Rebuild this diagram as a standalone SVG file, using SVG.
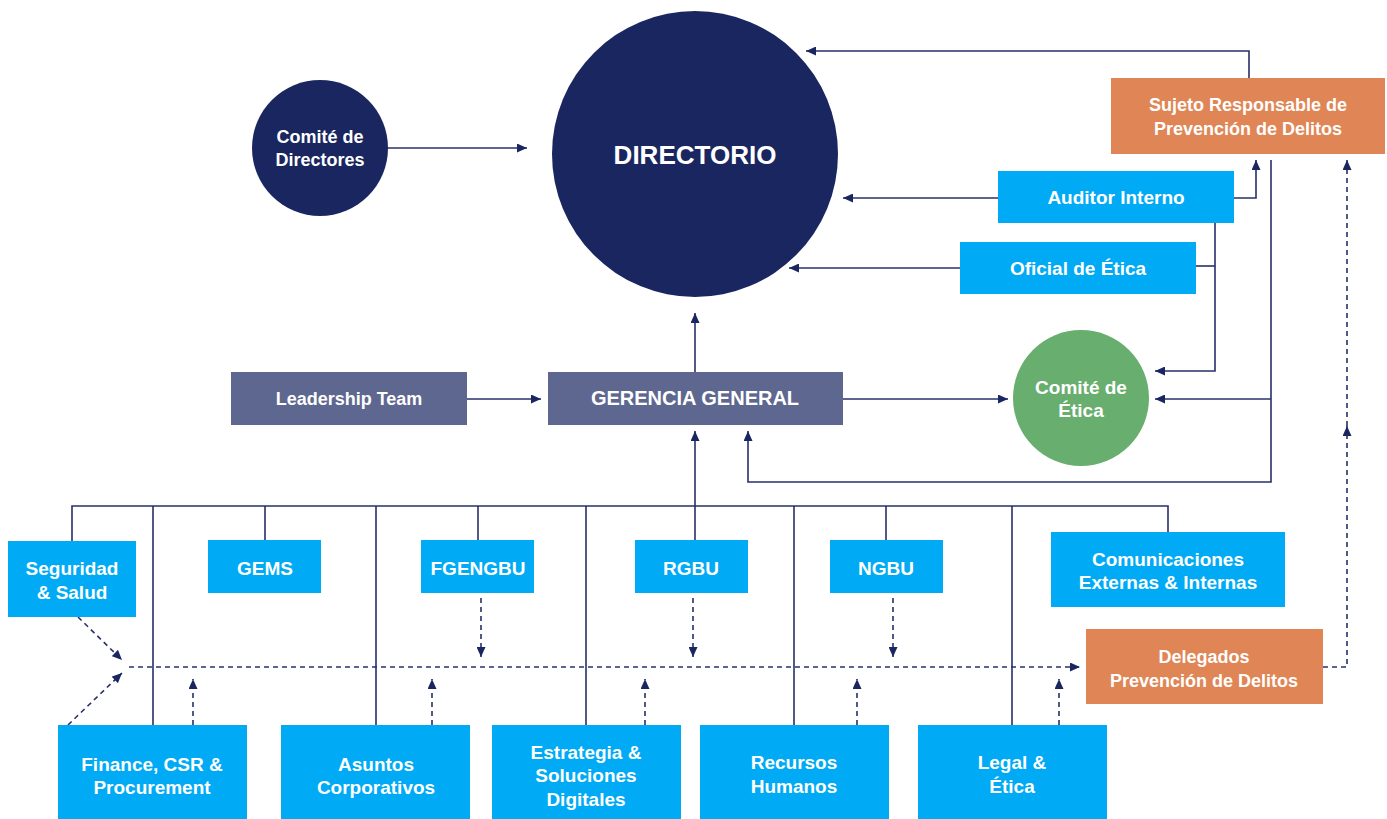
<svg xmlns="http://www.w3.org/2000/svg" width="1387" height="819" viewBox="0 0 1387 819">
<style>
.t{font-family:"Liberation Sans",Arial,sans-serif;font-weight:bold;fill:#fff;text-anchor:middle}
.s19{font-size:19px}.s18{font-size:18px}
.blue{fill:#00aaf5}.orange{fill:#e08656}.slate{fill:#5e6790}.navy{fill:#1a2660}.green{fill:#68ae6e}
.ln{fill:none;stroke:#27306a;stroke-width:1.6}
.ds{fill:none;stroke:#27306a;stroke-width:1.6;stroke-dasharray:5 4}
</style>
<defs>
<marker id="ah" markerUnits="userSpaceOnUse" markerWidth="11" markerHeight="9" refX="10" refY="4.5" orient="auto">
<path d="M0,0 L10,4.5 L0,9 z" fill="#1a2660"/>
</marker>
</defs>
<rect width="1387" height="819" fill="#fff"/>

<g id="connectors">
<path class="ln" d="M388,148 H527" marker-end="url(#ah)"/>
<path class="ln" d="M1249,78 V51 H806" marker-end="url(#ah)"/>
<path class="ln" d="M998,198 H843" marker-end="url(#ah)"/>
<path class="ln" d="M1234,198 H1256 V160" marker-end="url(#ah)"/>
<path class="ln" d="M960,268 H789" marker-end="url(#ah)"/>
<path class="ln" d="M1215,223 V371 H1155" marker-end="url(#ah)"/>
<path class="ln" d="M1196,266 H1215"/>
<path class="ln" d="M1271,160 V482 H748 V431" marker-end="url(#ah)"/>
<path class="ln" d="M1271,399 H1155" marker-end="url(#ah)"/>
<path class="ln" d="M695,372 V313" marker-end="url(#ah)"/>
<path class="ln" d="M467,399 H541" marker-end="url(#ah)"/>
<path class="ln" d="M843,399 H1008" marker-end="url(#ah)"/>
<path class="ln" d="M72,541 V506 H1168 V532"/>
<path class="ln" d="M695,540 V431" marker-end="url(#ah)"/>
<path class="ln" d="M265,506 V540 M478,506 V540 M886,506 V540"/>
<path class="ln" d="M153,506 V725 M376,506 V725 M586,506 V725 M794,506 V725 M1012,506 V725"/>

<path class="ds" d="M129,667 H1080" marker-end="url(#ah)"/>
<path class="ds" d="M78,617 L122,660" marker-end="url(#ah)"/>
<path class="ds" d="M68,725 L122,673" marker-end="url(#ah)"/>
<path class="ds" d="M193,725 V679" marker-end="url(#ah)"/>
<path class="ds" d="M432,725 V679" marker-end="url(#ah)"/>
<path class="ds" d="M645,725 V679" marker-end="url(#ah)"/>
<path class="ds" d="M857,725 V679" marker-end="url(#ah)"/>
<path class="ds" d="M1059,725 V679" marker-end="url(#ah)"/>
<path class="ds" d="M481,598 V657" marker-end="url(#ah)"/>
<path class="ds" d="M693,598 V657" marker-end="url(#ah)"/>
<path class="ds" d="M893,598 V657" marker-end="url(#ah)"/>
<path class="ds" d="M1323,667 H1347 V426" marker-end="url(#ah)"/>
<path class="ds" d="M1347,426 V160" marker-end="url(#ah)"/>
</g>

<g id="directorio"><circle class="navy" cx="695" cy="154" r="143"/><text class="t" x="695" y="164" font-size="26px">DIRECTORIO</text></g>
<g id="comite-directores"><circle class="navy" cx="320" cy="148" r="68"/><text class="t s18" x="320" y="143">Comité de</text><text class="t s18" x="320" y="166">Directores</text></g>
<g id="sujeto"><rect class="orange" x="1111" y="78" width="274" height="76"/><text class="t s18" x="1248" y="111">Sujeto Responsable de</text><text class="t s18" x="1248" y="135">Prevención de Delitos</text></g>
<g id="auditor"><rect class="blue" x="998" y="171" width="236" height="52"/><text class="t s19" x="1116" y="204">Auditor Interno</text></g>
<g id="oficial"><rect class="blue" x="960" y="242" width="236" height="52"/><text class="t s19" x="1078" y="275">Oficial de Ética</text></g>
<g id="leadership"><rect class="slate" x="231" y="372" width="236" height="53"/><text class="t s18" x="349" y="405">Leadership Team</text></g>
<g id="gerencia"><rect class="slate" x="548" y="372" width="295" height="53"/><text class="t" x="695" y="405" font-size="20px">GERENCIA GENERAL</text></g>
<g id="comite-etica"><circle class="green" cx="1081" cy="398" r="68"/><text class="t s19" x="1081" y="394">Comité de</text><text class="t s19" x="1081" y="417">Ética</text></g>

<g id="seguridad"><rect class="blue" x="8" y="541" width="128" height="76"/><text class="t s19" x="72" y="575">Seguridad</text><text class="t s19" x="72" y="599">&amp; Salud</text></g>
<g id="gems"><rect class="blue" x="208" y="540" width="113" height="53"/><text class="t s19" x="265" y="575">GEMS</text></g>
<g id="fgengbu"><rect class="blue" x="421" y="540" width="113" height="53"/><text class="t s19" x="478" y="575">FGENGBU</text></g>
<g id="rgbu"><rect class="blue" x="635" y="540" width="113" height="53"/><text class="t s19" x="691" y="575">RGBU</text></g>
<g id="ngbu"><rect class="blue" x="830" y="540" width="113" height="53"/><text class="t s19" x="886" y="575">NGBU</text></g>
<g id="comunicaciones"><rect class="blue" x="1051" y="532" width="234" height="75"/><text class="t s19" x="1168" y="566">Comunicaciones</text><text class="t s19" x="1168" y="589">Externas &amp; Internas</text></g>
<g id="delegados"><rect class="orange" x="1086" y="629" width="237" height="75"/><text class="t s18" x="1204" y="663">Delegados</text><text class="t s18" x="1204" y="687">Prevención de Delitos</text></g>

<g id="finance"><rect class="blue" x="58" y="725" width="189" height="94"/><text class="t s19" x="152" y="771">Finance, CSR &amp;</text><text class="t s19" x="152" y="794">Procurement</text></g>
<g id="asuntos"><rect class="blue" x="281" y="725" width="189" height="94"/><text class="t s19" x="376" y="771">Asuntos</text><text class="t s19" x="376" y="794">Corporativos</text></g>
<g id="estrategia"><rect class="blue" x="492" y="725" width="189" height="94"/><text class="t s19" x="586" y="759">Estrategia &amp;</text><text class="t s19" x="586" y="782">Soluciones</text><text class="t s19" x="586" y="806">Digitales</text></g>
<g id="recursos"><rect class="blue" x="700" y="725" width="189" height="94"/><text class="t s19" x="794" y="769">Recursos</text><text class="t s19" x="794" y="793">Humanos</text></g>
<g id="legal"><rect class="blue" x="918" y="725" width="189" height="94"/><text class="t s19" x="1012" y="769">Legal &amp;</text><text class="t s19" x="1012" y="793">Ética</text></g>
</svg>
